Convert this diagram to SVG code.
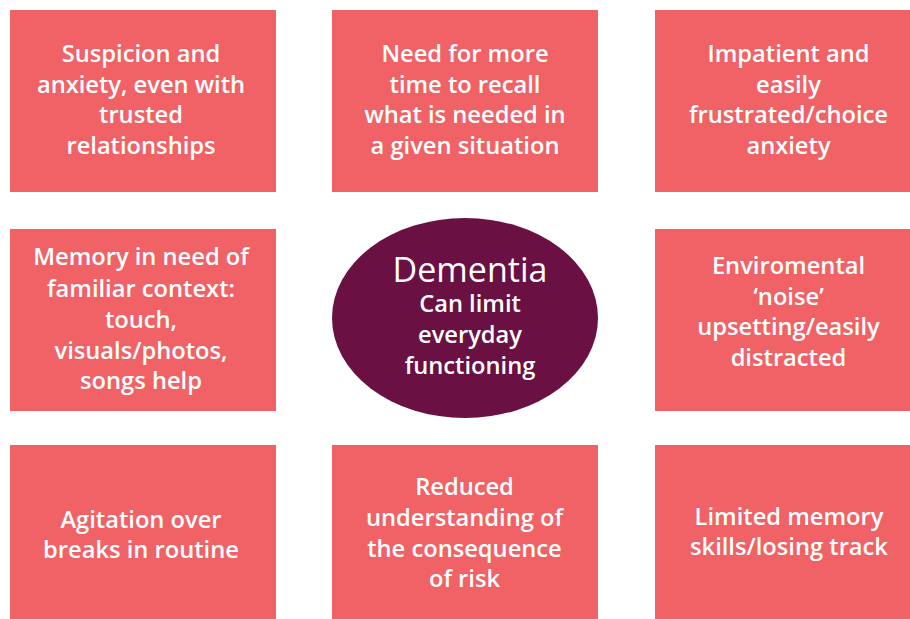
<svg xmlns="http://www.w3.org/2000/svg" width="910" height="619" viewBox="0 0 910 619">
<style>
.box{fill:#F06266}
.t{font-family:"Open Sans","Liberation Sans",sans-serif;font-weight:600;font-size:23.7px;fill:#FFFFFF;text-anchor:middle}
.big{font-size:34px;font-weight:500}
</style>
<rect x="0" y="0" width="910" height="619" fill="#FFFFFF"/>
<g id="connectors"></g>
<g id="n1"><rect class="box" x="10" y="10" width="266" height="182"/>
<text class="t"><tspan x="141" y="62">Suspicion and</tspan><tspan x="141" y="92.5">anxiety, even with</tspan><tspan x="141" y="123">trusted</tspan><tspan x="141" y="153.5">relationships</tspan></text></g>
<g id="n2"><rect class="box" x="332" y="10" width="266" height="182"/>
<text class="t"><tspan x="465" y="62">Need for more</tspan><tspan x="465" y="92.5">time to recall</tspan><tspan x="465" y="123">what is needed in</tspan><tspan x="465" y="153.5">a given situation</tspan></text></g>
<g id="n3"><rect class="box" x="655" y="10" width="255" height="182"/>
<text class="t"><tspan x="788.5" y="62">Impatient and</tspan><tspan x="788.5" y="92.5">easily</tspan><tspan x="788.5" y="123">frustrated/choice</tspan><tspan x="788.5" y="153.5">anxiety</tspan></text></g>
<g id="n4"><rect class="box" x="10" y="229" width="266" height="182"/>
<text class="t"><tspan x="141" y="265">Memory in need of</tspan><tspan x="141" y="296.5">familiar context:</tspan><tspan x="141" y="327.5">touch,</tspan><tspan x="141" y="358.5">visuals/photos,</tspan><tspan x="141" y="388.5">songs help</tspan></text></g>
<g id="center"><ellipse cx="465" cy="318" rx="133" ry="100" fill="#6A1042"/>
<text class="t"><tspan class="big" x="470" y="281.5">Dementia</tspan><tspan x="470" y="311.5">Can limit</tspan><tspan x="470" y="342.5">everyday</tspan><tspan x="470" y="373.5">functioning</tspan></text></g>
<g id="n5"><rect class="box" x="655" y="229" width="255" height="182"/>
<text class="t"><tspan x="788.5" y="274">Enviromental</tspan><tspan x="788.5" y="304.5">‘noise’</tspan><tspan x="788.5" y="335">upsetting/easily</tspan><tspan x="788.5" y="365.5">distracted</tspan></text></g>
<g id="n6"><rect class="box" x="10" y="445" width="266" height="174"/>
<text class="t"><tspan x="141" y="527.5">Agitation over</tspan><tspan x="141" y="557.5">breaks in routine</tspan></text></g>
<g id="n7"><rect class="box" x="332" y="445" width="266" height="174"/>
<text class="t"><tspan x="464.5" y="495">Reduced</tspan><tspan x="464.5" y="526">understanding of</tspan><tspan x="464.5" y="556.5">the consequence</tspan><tspan x="464.5" y="586.5">of risk</tspan></text></g>
<g id="n8"><rect class="box" x="655" y="445" width="255" height="174"/>
<text class="t"><tspan x="789" y="524.5">Limited memory</tspan><tspan x="789" y="555">skills/losing track</tspan></text></g>
</svg>
